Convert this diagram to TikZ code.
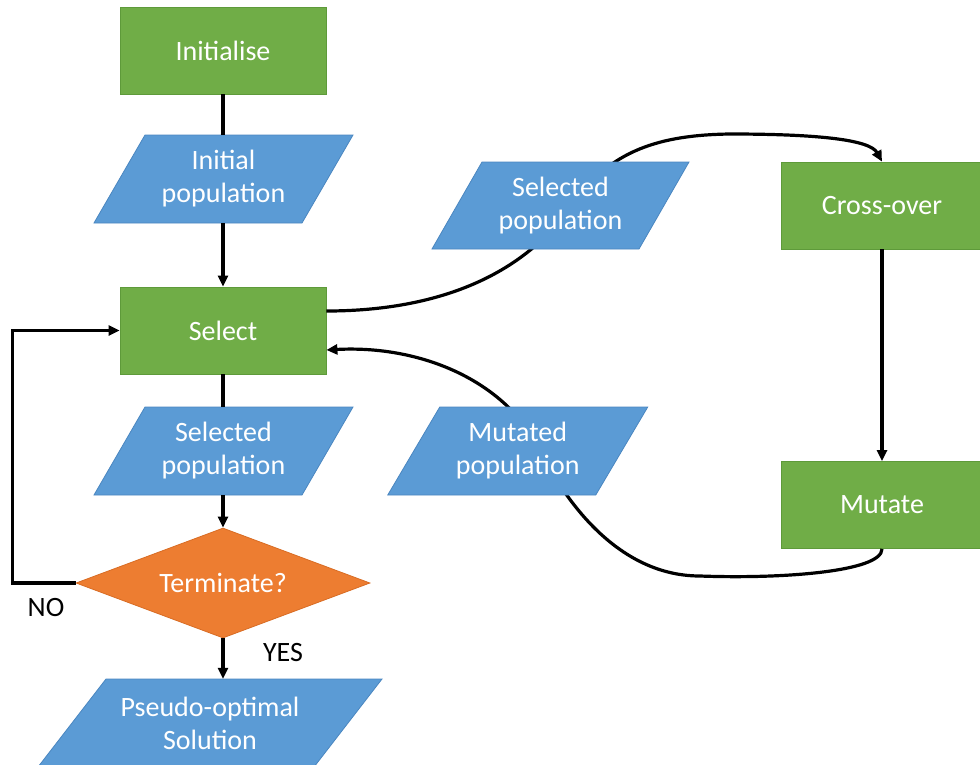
\documentclass[tikz,border=0pt]{standalone}
\usepackage{fontspec}
\setmainfont{Carlito}
\usetikzlibrary{arrows.meta,shapes.geometric,calc}

\definecolor{procgreen}{HTML}{70AD47}
\definecolor{procedge}{HTML}{5E9A3A}
\definecolor{ioblue}{HTML}{5B9BD5}
\definecolor{ioedge}{HTML}{4A86C0}
\definecolor{decorange}{HTML}{ED7D31}
\definecolor{decedge}{HTML}{D86C24}

% slanted data box: centre x, centre y, half width, half height, slant offset
\newcommand\slantbox[5]{%
  \filldraw[iofill] ({#1-#3-#5},{#2+#4}) -- ({#1+#3-#5},{#2+#4})
    -- ({#1+#3+#5},{#2-#4}) -- ({#1-#3+#5},{#2-#4}) -- cycle;}

\begin{document}
\begin{tikzpicture}[x=1pt,y=-1pt,
  font=\fontsize{28}{33}\selectfont,
  proc/.style={rectangle, fill=procgreen, draw=procedge, line width=0.8pt,
    text=white, minimum width=206pt, minimum height=87pt, inner sep=0pt},
  decide/.style={diamond, aspect=2.67, fill=decorange, draw=decedge, line width=0.8pt,
    text=white, minimum width=294pt, minimum height=110pt, inner sep=0pt},
  iofill/.style={fill=ioblue, draw=ioedge, line width=0.8pt},
  iotext/.style={rectangle, text=white, align=center, inner sep=0pt},
  flow/.style={line width=3.2pt, draw=black},
  flowarr/.style={flow, -{Triangle[length=11pt,width=10pt]}},
  branch/.style={text=black, inner sep=0pt}]

\useasboundingbox (0,0) rectangle (980,764);

% process steps and the decision
\node[proc] (init) at (223,50.5) {Initialise};
\node[proc] (sel) at (223,330.5) {Select};
\node[proc, minimum width=202pt] (co) at (882,205.5) {Cross-over};
\node[proc, minimum width=202pt] (mu) at (882,505) {Mutate};
\node[decide] (term) at (223,583) {Terminate?};

% curved loop connectors, passing behind the data boxes
\draw[flowarr] ($(sel.east)+(0,-19.5)$)
  .. controls (430,311) and (520,280) .. (572,205)
  .. controls (610,150) and (660,135) .. (730,134)
  .. controls (820,134) and (870,140) .. (co.north);
\draw[flowarr] (mu.south)
  .. controls (882,572) and (780,579) .. (700,576)
  .. controls (610,576) and (557,485) .. (540,450)
  .. controls (505,380) and (420,345) .. ($(sel.east)+(0,19.5)$);

% data boxes
\slantbox{223.5}{179}{104}{44}{25.5}
\slantbox{223.5}{451}{104}{44}{25.5}
\slantbox{560.5}{205.5}{103.5}{43.5}{25}
\slantbox{517.75}{451}{104}{44}{26}
\slantbox{210}{723}{138}{44}{34}

\node[iotext, minimum width=208pt, minimum height=88pt] (ip) at (223.5,179) {Initial\\population};
\node[iotext, minimum width=208pt, minimum height=88pt] (sp) at (223.5,451) {Selected\\population};
\node[iotext, minimum width=207pt, minimum height=87pt] (spr) at (560.5,205.5) {Selected\\population};
\node[iotext, minimum width=208pt, minimum height=88pt] (mp) at (517.75,451) {Mutated\\population};
\node[iotext, minimum width=276pt, minimum height=88pt] (pso) at (210,723) {Pseudo-optimal\\Solution};

% main flow
\draw[flow] (init.south) -- (init.south |- ip.north);
\draw[flowarr] (sel.north |- ip.south) -- (sel.north);
\draw[flow] (sel.south) -- (sel.south |- sp.north);
\draw[flowarr] (term.north |- sp.south) -- (term.north);
\draw[flowarr] (term.south) -- (term.south |- pso.north);
\draw[flowarr] (term.west) -- ++(-63,0) |- (sel.west);
\draw[flowarr] (co) -- (mu);

% branch labels
\node[branch] (nolbl) at (46,607) {NO};
\node[branch] (yeslbl) at (283,652) {YES};
\end{tikzpicture}
\end{document}
